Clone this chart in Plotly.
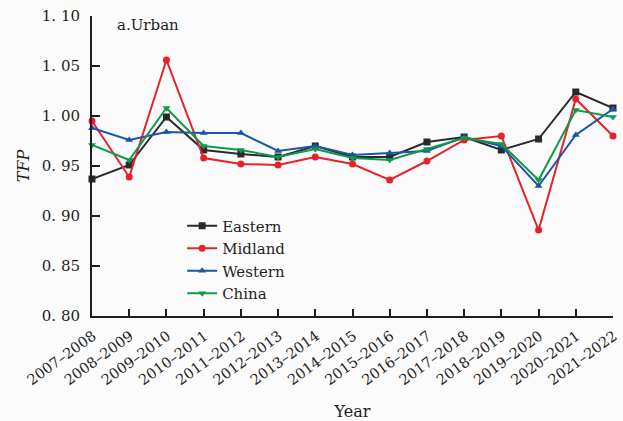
import plotly.graph_objects as go

# Urban TFP by region, yearly intervals
periods = ["2007–2008", "2008–2009", "2009–2010", "2010–2011", "2011–2012",
           "2012–2013", "2013–2014", "2014–2015", "2015–2016", "2016–2017",
           "2017–2018", "2018–2019", "2019–2020", "2020–2021", "2021–2022"]

eastern = [0.937, 0.951, 0.999, 0.966, 0.962, 0.959, 0.970, 0.959, 0.959, 0.974,
           0.979, 0.966, 0.977, 1.024, 1.008]
midland = [0.995, 0.939, 1.056, 0.958, 0.952, 0.951, 0.959, 0.952, 0.936, 0.955,
           0.976, 0.980, 0.886, 1.017, 0.980]
western = [0.988, 0.976, 0.984, 0.983, 0.983, 0.965, 0.970, 0.961, 0.963, 0.965,
           0.979, 0.970, 0.930, 0.981, 1.007]
china = [0.971, 0.956, 1.008, 0.970, 0.966, 0.959, 0.967, 0.958, 0.956, 0.967,
         0.978, 0.972, 0.936, 1.006, 0.999]

y_ticks = [0.80, 0.85, 0.90, 0.95, 1.00, 1.05, 1.10]
y_labels = [f"{v:.2f}".replace(".", ". ") for v in y_ticks]

FONT = "DejaVu Serif"
INK = "#1e1e1e"

series = [
    ("Eastern", eastern, "#2a2a2a", "square"),
    ("Midland", midland, "#e8202a", "circle"),
    ("Western", western, "#1a55a6", "triangle-up"),
    ("China", china, "#10994a", "triangle-down"),
]

x_idx = list(range(len(periods)))

fig = go.Figure()
for name, vals, color, symbol in series:
    fig.add_trace(go.Scatter(
        x=x_idx, y=vals, name=name, mode="lines+markers",
        line=dict(color=color, width=2),
        marker=dict(symbol=symbol, size=7, color=color),
        cliponaxis=False,
    ))

fig.update_layout(
    width=623, height=421,
    margin=dict(l=92, r=10, t=16, b=105),
    paper_bgcolor="#fbfbfb", plot_bgcolor="#fbfbfb",
    font=dict(family=FONT, size=15, color=INK),
    showlegend=True,
    legend=dict(
        x=0.173, y=0.355, xanchor="left", yanchor="top",
        bgcolor="rgba(0,0,0,0)", font=dict(family=FONT, size=15, color=INK),
        tracegroupgap=0, itemwidth=30,
    ),
    xaxis=dict(
        range=[0, len(periods) - 1], automargin=False,
        tickmode="array", tickvals=x_idx, ticktext=periods,
        tickangle=-36, ticks="inside", ticklen=7, tickwidth=2, tickcolor=INK,
        ticklabelstandoff=4, ticklabelshift=1, ticklabeloverflow="allow",
        showline=True, linecolor=INK, linewidth=2, mirror=False,
        showgrid=False, zeroline=False,
        tickfont=dict(family=FONT, size=14.5, color=INK),
        title=dict(text="Year", font=dict(family=FONT, size=16, color=INK), standoff=24),
    ),
    yaxis=dict(
        range=[0.80, 1.10], automargin=False,
        tickmode="array", tickvals=y_ticks, ticktext=y_labels,
        ticks="inside", ticklen=8, tickwidth=2, tickcolor=INK,
        ticklabelstandoff=7,
        showline=True, linecolor=INK, linewidth=2, mirror=False,
        showgrid=False, zeroline=False,
        tickfont=dict(family=FONT, size=15, color=INK),
        title=dict(text="<i>TFP</i>", font=dict(family=FONT, size=16, color=INK), standoff=8),
    ),
    annotations=[dict(
        text="a.Urban", xref="paper", yref="paper", x=0.044, y=0.97,
        xanchor="left", yanchor="middle", showarrow=False,
        font=dict(family=FONT, size=15, color=INK),
    )],
)

fig.write_html("out.html")
